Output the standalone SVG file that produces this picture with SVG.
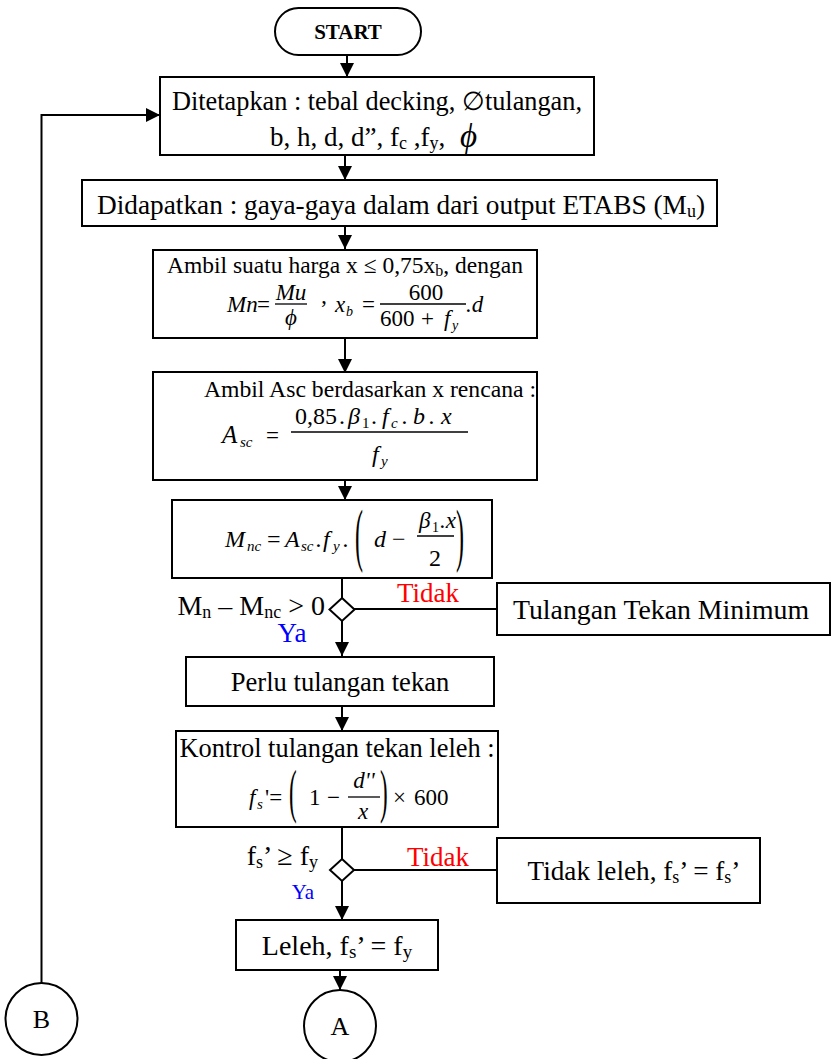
<svg xmlns="http://www.w3.org/2000/svg" width="831" height="1059" viewBox="0 0 831 1059">
<style>
.box{fill:#fff;stroke:#000;stroke-width:2}
.ln{fill:none;stroke:#000;stroke-width:2}
.bar{stroke:#000;stroke-width:1.3}
.t{font-family:"Liberation Serif","Times New Roman",serif;font-size:26px;fill:#000;text-anchor:middle}
.m{font-family:"Liberation Serif","Times New Roman",serif;font-style:italic;font-size:23px;fill:#000}
.r{font-family:"Liberation Serif","Times New Roman",serif;font-style:normal;font-size:23px;fill:#000}
.z24{font-size:24px}
.z25{font-size:25px}
.sub{font-size:15px}
.sub14{font-size:14px}
.red{fill:#ff0000}
.blue{fill:#0000ff}
</style>
<defs>
<marker id="ah" markerWidth="15" markerHeight="14" refX="14" refY="7" orient="auto" markerUnits="userSpaceOnUse">
<path d="M0,0 L14,7 L0,14 z" fill="#000"/>
</marker>
</defs>

<g id="connectors">
<line class="ln" x1="347" y1="55" x2="347" y2="77" marker-end="url(#ah)"/>
<line class="ln" x1="345" y1="155" x2="345" y2="180" marker-end="url(#ah)"/>
<line class="ln" x1="345" y1="226" x2="345" y2="249" marker-end="url(#ah)"/>
<line class="ln" x1="345" y1="338" x2="345" y2="373" marker-end="url(#ah)"/>
<line class="ln" x1="345" y1="480" x2="345" y2="500" marker-end="url(#ah)"/>
<line class="ln" x1="342" y1="578" x2="342" y2="598"/>
<line class="ln" x1="354" y1="609" x2="497" y2="609"/>
<line class="ln" x1="342" y1="621" x2="342" y2="656" marker-end="url(#ah)"/>
<line class="ln" x1="342" y1="706" x2="342" y2="731" marker-end="url(#ah)"/>
<line class="ln" x1="342" y1="827" x2="342" y2="859"/>
<line class="ln" x1="354" y1="870" x2="497" y2="870"/>
<line class="ln" x1="342" y1="881" x2="342" y2="920" marker-end="url(#ah)"/>
<line class="ln" x1="340" y1="970" x2="340" y2="990" marker-end="url(#ah)"/>
<path class="ln" d="M41.5,983 V115 H160" marker-end="url(#ah)"/>
<text class="t red" x="428" y="602" style="font-size:27px">Tidak</text>
<text class="t blue" x="292" y="642" style="font-size:27px">Ya</text>
<text class="t red" x="438" y="866" style="font-size:27px">Tidak</text>
<text class="t blue" x="303" y="899" style="font-size:21px">Ya</text>
</g>

<g id="start">
<rect class="box" x="275" y="8" width="146" height="47" rx="23.5"/>
<text class="t" x="348" y="39" style="font-weight:bold;font-size:21px">START</text>
</g>

<g id="ditetapkan">
<rect class="box" x="160" y="77" width="434" height="78"/>
<text class="t" x="377" y="110" style="font-size:26.3px">Ditetapkan : tebal decking, ∅tulangan,</text>
<text class="t" x="270" y="146" style="font-size:27px;text-anchor:start">b, h, d, d”, f<tspan dy="3" font-size="18">c</tspan><tspan dy="-3"> ,f</tspan><tspan dy="3" font-size="18">y</tspan><tspan dy="-3">,</tspan></text>
<text class="m" x="460" y="147" style="font-size:33px">ϕ</text>
</g>

<g id="didapatkan">
<rect class="box" x="82" y="180" width="635" height="46"/>
<text class="t" x="401" y="214" style="font-size:27.3px">Didapatkan : gaya-gaya dalam dari output ETABS (M<tspan dy="3" font-size="18">u</tspan><tspan dy="-3">)</tspan></text>
</g>

<g id="ambil-x">
<rect class="box" x="153" y="250" width="384" height="88"/>
<text class="t" x="345" y="273" style="font-size:23.5px">Ambil suatu harga x ≤ 0,75x<tspan dy="3" font-size="16">b</tspan><tspan dy="-3">, dengan</tspan></text>
<text class="m" x="227" y="312">Mn</text>
<text class="r" x="257" y="312">=</text>
<text class="m" x="291" y="300" text-anchor="middle">Mu</text>
<line class="bar" x1="275" y1="304" x2="307" y2="304"/>
<text class="m" x="291" y="325" text-anchor="middle">ϕ</text>
<text class="r" x="320" y="316">’</text>
<text class="m" x="335" y="312">x</text>
<text class="m sub14" x="346" y="316">b</text>
<text class="r" x="362" y="312">=</text>
<text class="r" x="426" y="300" text-anchor="middle">600</text>
<line class="bar" x1="380" y1="304" x2="466" y2="304"/>
<text class="r" x="380" y="326">600</text>
<text class="r" x="421" y="326">+</text>
<text class="m" x="444" y="326">f</text>
<text class="m sub14" x="452" y="330">y</text>
<text class="m" x="466" y="312">.d</text>
</g>

<g id="ambil-asc">
<rect class="box" x="153" y="372" width="384" height="108"/>
<text class="t" x="370" y="397" style="font-size:23.7px">Ambil Asc berdasarkan x rencana :</text>
<text class="m z25" x="222" y="443">A</text>
<text class="m sub" x="240" y="447">sc</text>
<text class="r" x="266" y="443">=</text>
<text class="r z24" x="295" y="424">0,85</text>
<text class="r z24" x="339" y="424">.</text>
<text class="m z24" x="348" y="424">β</text>
<text class="r sub" x="362" y="428">1</text>
<text class="r z24" x="371" y="424">.</text>
<text class="m z24" x="382" y="424">f</text>
<text class="m sub" x="391" y="428">c</text>
<text class="m z24" x="402" y="424">.</text>
<text class="m z24" x="413" y="424">b</text>
<text class="m z24" x="429" y="424">.</text>
<text class="m z24" x="441" y="424">x</text>
<line class="bar" x1="291" y1="432" x2="468" y2="432"/>
<text class="m z24" x="372" y="462">f</text>
<text class="m sub" x="381" y="466">y</text>
</g>

<g id="mnc">
<rect class="box" x="172" y="500" width="320" height="78"/>
<text class="m z24" x="225" y="547">M</text>
<text class="m sub" x="247" y="551">nc</text>
<text class="r z24" x="267" y="547">=</text>
<text class="m z24" x="285" y="547">A</text>
<text class="m sub" x="301" y="551">sc</text>
<text class="m z24" x="316" y="547">.</text>
<text class="m z24" x="323" y="547">f</text>
<text class="m sub" x="333" y="551">y</text>
<text class="m z24" x="343" y="547">.</text>
<text class="r z24" transform="translate(355,558) scale(1,2.9)">(</text>
<text class="m z24" x="374" y="547">d</text>
<text class="r z24" x="392" y="547">−</text>
<text class="m" x="419" y="528">β</text>
<text class="r sub14" x="432" y="532">1</text>
<text class="m" x="440" y="528">.x</text>
<line class="bar" x1="417" y1="536" x2="454" y2="536"/>
<text class="r z24" x="435" y="566" text-anchor="middle">2</text>
<text class="r z24" transform="translate(456,558) scale(1,2.9)">)</text>
</g>

<g id="decision1">
<path class="box" d="M342,598 L354.5,609.5 L342,621 L329.5,609.5 Z"/>
<text class="t" x="325" y="615" style="text-anchor:end;font-size:28px">M<tspan dy="3" font-size="18">n</tspan><tspan dy="-3"> – M</tspan><tspan dy="3" font-size="18">nc</tspan><tspan dy="-3"> &gt; 0</tspan></text>
</g>

<g id="tekan-minimum">
<rect class="box" x="497" y="583" width="333" height="52"/>
<text class="t" x="661" y="619" style="font-size:27.8px">Tulangan Tekan Minimum</text>
</g>

<g id="perlu">
<rect class="box" x="186" y="657" width="308" height="49"/>
<text class="t" x="340" y="691" style="font-size:26.6px">Perlu tulangan tekan</text>
</g>

<g id="kontrol">
<rect class="box" x="176" y="731" width="322" height="96"/>
<text class="t" x="337" y="757" style="font-size:26.4px">Kontrol tulangan tekan leleh :</text>
<text class="m" x="249" y="805">f</text>
<text class="m sub" x="257" y="809">s</text>
<text class="r" x="265" y="805">'=</text>
<text class="r" transform="translate(289,811) scale(1,2.6)">(</text>
<text class="r" x="309" y="805">1</text>
<text class="r" x="327" y="805">−</text>
<text class="m" x="364" y="788" text-anchor="middle">d''</text>
<line class="bar" x1="348" y1="797" x2="380" y2="797"/>
<text class="m" x="363" y="819" text-anchor="middle">x</text>
<text class="r" transform="translate(380,811) scale(1,2.6)">)</text>
<text class="r" x="393" y="805">×</text>
<text class="r" x="414" y="805">600</text>
</g>

<g id="decision2">
<path class="box" d="M342,859 L354,870 L342,881 L330,870 Z"/>
<text class="t" x="318" y="865" style="text-anchor:end;font-size:28px">f<tspan dy="3" font-size="18">s</tspan><tspan dy="-3">’ ≥ f</tspan><tspan dy="3" font-size="18">y</tspan></text>
</g>

<g id="tidak-leleh">
<rect class="box" x="497" y="838" width="263" height="65"/>
<text class="t" x="634" y="880" style="font-size:27.2px">Tidak leleh, f<tspan dy="3" font-size="18">s</tspan><tspan dy="-3">’ = f</tspan><tspan dy="3" font-size="18">s</tspan><tspan dy="-3">’</tspan></text>
</g>

<g id="leleh">
<rect class="box" x="236" y="920" width="202" height="50"/>
<text class="t" x="337" y="955" style="font-size:28px">Leleh, f<tspan dy="3" font-size="19">s</tspan><tspan dy="-3">’ = f</tspan><tspan dy="3" font-size="19">y</tspan></text>
</g>

<g id="connector-a">
<circle class="box" cx="340" cy="1026" r="36"/>
<text class="t" x="340" y="1035">A</text>
</g>

<g id="connector-b">
<circle class="box" cx="41.5" cy="1019" r="36"/>
<text class="t" x="41.5" y="1028">B</text>
</g>
</svg>
